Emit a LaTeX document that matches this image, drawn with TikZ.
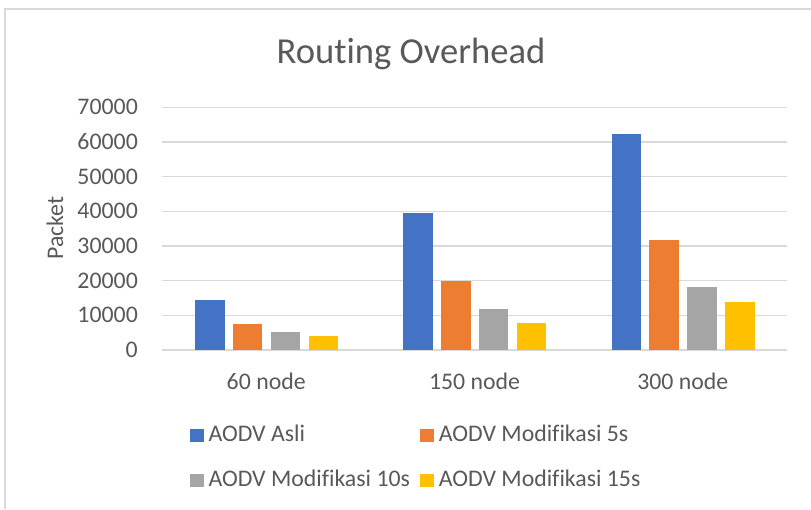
\documentclass[tikz,border=0pt]{standalone}
\usepackage{fontspec}
\setmainfont{Carlito}[Ligatures=NoCommon]
\definecolor{cblue}{HTML}{4472C4}
\definecolor{corange}{HTML}{ED7D31}
\definecolor{cgray}{HTML}{A5A5A5}
\definecolor{cyellow}{HTML}{FFC000}
\definecolor{txt}{HTML}{595959}
\definecolor{gridc}{HTML}{D9D9D9}
\begin{document}
\begin{tikzpicture}[x=1pt,y=-1pt,
  lbl/.style={text=txt,font=\fontsize{23.8}{28}\selectfont,inner sep=0pt},
  tick/.style={lbl,anchor=east},
  gridline/.style={draw=gridc,line width=1.4pt},
  legsq/.style={minimum width=14pt,minimum height=13pt,inner sep=0pt,anchor=south west}]
\useasboundingbox (0,0) rectangle (811,509);
\fill[white] (0,0) rectangle (811,509);
\draw[gridc,line width=1.6pt] (4.7,509) -- (4.7,8.7) -- (811,8.7);
% title
\node[text=txt,font=\fontsize{36.6}{42}\selectfont,inner sep=0pt,anchor=base] (title) at (411,63.3) {Routing Overhead};
% gridlines and ticks
\foreach \i in {0,...,7}{
  \pgfmathsetmacro{\yy}{350-\i*34.67}
  \draw[gridline] (162,\yy) -- (787,\yy);
}
\foreach \i in {1,...,7}{
  \pgfmathsetmacro{\yy}{350-\i*34.67}
  \node[tick] (t\i) at (138,\yy) {\i0000};
}
\node[tick] (t0) at (138,350) {0};
% y axis label
\node[lbl,rotate=90] (ylab) at (55,228) {Packet};
% bars
\foreach \c/\a/\b/\g/\y in {266.2/1.45/0.75/0.52/0.413, 474.5/3.96/1.99/1.174/0.788, 682.8/6.24/3.164/1.808/1.394}{
  \foreach \v/\off/\col in {\a/-71.2/cblue, \b/-33.4/corange, \g/4.4/cgray, \y/42.3/cyellow}{
    \pgfmathsetmacro{\bt}{350-\v*34.67}
    \fill[\col] (\c+\off,350) rectangle (\c+\off+29.5,\bt);
  }
}
% category labels
\node[lbl,anchor=base] (c1) at (266.2,389) {60 node};
\node[lbl,anchor=base] (c2) at (474.5,389) {150 node};
\node[lbl,anchor=base] (c3) at (682.8,389) {300 node};
% legend
\node[legsq,fill=cblue] (l1) at (189.3,442) {};
\node[lbl,anchor=base west] (lt1) at (208.3,441.7) {AODV Asli};
\node[legsq,fill=corange] (l2) at (420,442) {};
\node[lbl,anchor=base west] (lt2) at (438.7,441.7) {AODV Modifikasi 5s};
\node[legsq,fill=cgray] (l3) at (189.3,486.7) {};
\node[lbl,anchor=base west] (lt3) at (208.3,486.7) {AODV Modifikasi 10s};
\node[legsq,fill=cyellow] (l4) at (420,486.7) {};
\node[lbl,anchor=base west] (lt4) at (438.7,486.7) {AODV Modifikasi 15s};
\end{tikzpicture}
\end{document}
